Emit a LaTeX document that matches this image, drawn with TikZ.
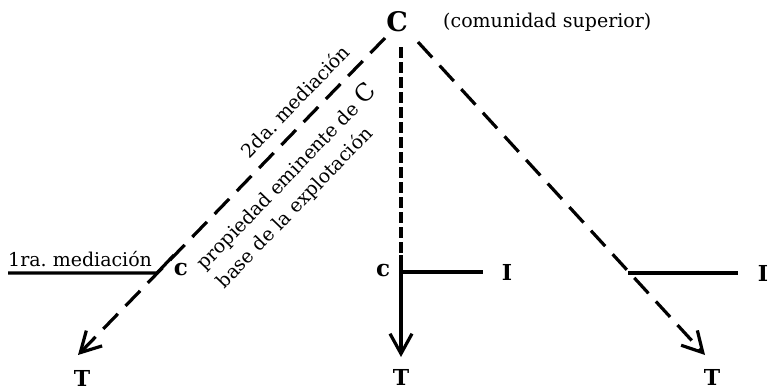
\documentclass[tikz,border=0pt]{standalone}
\usepackage{fontspec}
\setmainfont{DejaVu Serif}
\usetikzlibrary{arrows.meta,positioning}
\tikzset{
  txt/.style={font=\fontsize{19}{23}\selectfont, inner sep=0pt},
  letter/.style={font=\fontsize{22}{26}\selectfont\bfseries, inner sep=0pt},
  bigletter/.style={font=\fontsize{27}{31}\selectfont\bfseries, inner sep=0pt},
  smallc/.style={font=\fontsize{23}{27}\selectfont\bfseries, inner sep=0pt},
  link/.style={line width=3.2pt},
  longdash/.style={link, dash pattern=on 21pt off 11pt},
  shortdash/.style={link, dash pattern=on 11pt off 4pt},
  tip/.style={-{Straight Barb[length=20pt,width=22pt]}},
}
\begin{document}
\begin{tikzpicture}[x=1pt,y=-1pt]
  \useasboundingbox (0,0) rectangle (769,391);
  % top community
  \node[bigletter] (C) at (397,22) {C};
  \node[txt, anchor=west] (sup) at (443,22) {(comunidad superior)};
  % the three T
  \node[letter] (Tl) at (82,378) {T};
  \node[letter] (Tm) at (401,377) {T};
  \node[letter] (Tr) at (712,377) {T};
  % left branch
  \coordinate (l0) at (385,38);
  \coordinate (l1) at (78,355);
  \coordinate (jl) at (157,273);
  \coordinate (jl2) at (174,255);
  \coordinate (ul) at (8,273);
  \draw[longdash, tip] (l0) -- (l1);
  \draw[link] (ul) -- (jl) -- (jl2);
  \node[txt, anchor=base west] (med1) at (8,266) {1ra.\ mediación};
  \node[smallc] (cl) at (181,270) {c};
  \node[txt, rotate=46] (med2) at (295,101) {2da.\ mediación};
  \node[txt, rotate=46] (prop) at (286,177) {propiedad eminente de {\fontsize{24}{28}\selectfont C}};
  \node[txt, rotate=46] (base) at (295,208) {base de la explotación};
  % middle branch
  \coordinate (m0) at (401,47);
  \coordinate (m1) at (401,255);
  \coordinate (mc) at (401,272);
  \coordinate (m2) at (401,357);
  \draw[shortdash] (m0) -- (m1);
  \draw[link, tip] (m1) -- (m2);
  \node[smallc] (cm) at (383,271) {c};
  \node[letter] (Im) at (507,272) {I};
  \draw[link, shorten >=19pt] (mc) -- (Im);
  % right branch
  \coordinate (r0) at (418,42);
  \coordinate (r1) at (705,355);
  \coordinate (jr) at (628,273);
  \draw[longdash, tip] (r0) -- (r1);
  \node[letter] (Ir) at (763,273) {I};
  \draw[link, shorten >=20pt] (jr) -- (Ir);
\end{tikzpicture}
\end{document}
